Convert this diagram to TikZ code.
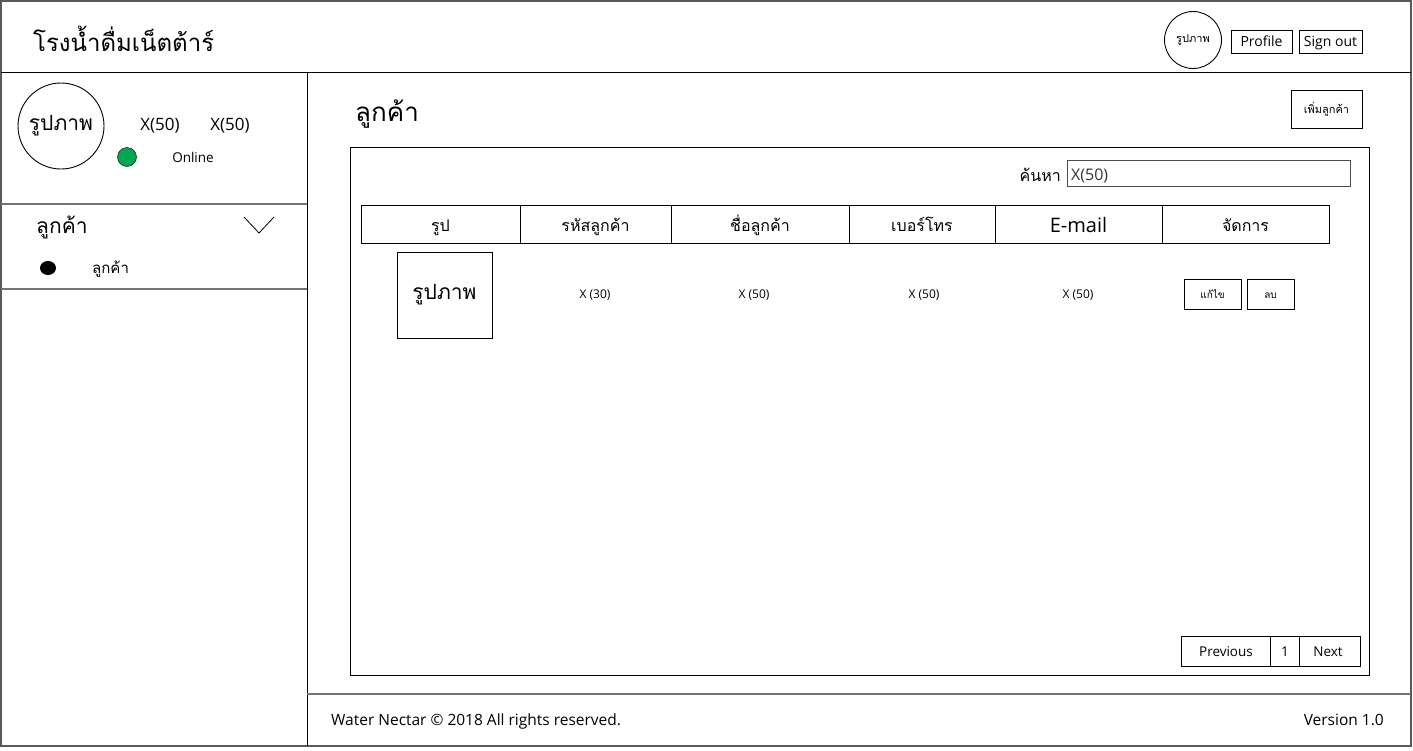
\documentclass[tikz,border=0pt]{standalone}
\usepackage{fontspec}
\usetikzlibrary{shapes.geometric}
\setmainfont{Open Sans}
\newfontfamily\thai[Script=Thai]{Loma}
\tikzset{
  box/.style={draw=black, line width=0.9pt},
  sep/.style={draw=black!55, line width=1.6pt},
  lbl/.style={inner sep=0pt, anchor=center},
  bl/.style={inner sep=0pt, anchor=base},
  fs/.style={font=\fontsize{#1}{#1}\selectfont},
  ts/.style={font=\thai\fontsize{#1}{#1}\selectfont},
}
\begin{document}
\begin{tikzpicture}[x=1pt,y=-1pt]
\useasboundingbox (0,0) rectangle (1413,750);
\fill[white] (0,0) rectangle (1413,750);
% outer frame
\draw[draw=black!65, line width=1.6pt] (1,1) rectangle (1411,746);
\draw[box] (1,72) -- (1411,72);
\draw[box] (307,72) -- (307,746);
\draw[sep] (1,204) -- (307,204);
\draw[sep] (1,289) -- (307,289);
\draw[sep] (307,694) -- (1411,694);
% header
\node[lbl, ts=24, anchor=west] (title) at (33,39) {โรงน้ำดื่มเน็ตต้าร์};
\node[box, circle, minimum size=57pt, inner sep=0pt, ts=11] (topimg) at (1193,40) {รูปภาพ};
\node[box, minimum width=61pt, minimum height=23pt, inner sep=0pt] (profile) at (1261.5,41.5) {};
\node[box, minimum width=63pt, minimum height=23pt, inner sep=0pt] (signout) at (1330.5,41.5) {};
\node[bl, fs=14] (profiletxt) at (1261.5,46.5) {Profile};
\node[bl, fs=14] (signouttxt) at (1330.5,46.5) {Sign out};
% sidebar user
\node[box, circle, minimum size=86pt, inner sep=0pt, ts=21] (avatar) at (61,126) {รูปภาพ};
\node[bl, fs=17] (x1) at (160,130) {X(50)};
\node[bl, fs=17] (x2) at (230,130) {X(50)};
\node[circle, draw=black, fill={rgb,255:red,0;green,166;blue,81}, minimum size=19pt, inner sep=0pt] (dot) at (127,157) {};
\node[bl, fs=13.5] (online) at (193,162) {Online};
% sidebar menu
\node[lbl, ts=21, anchor=west] (menu) at (36,227) {ลูกค้า};
\coordinate (cv1) at (244,217);
\coordinate (cv2) at (259,233);
\coordinate (cv3) at (274,217);
\draw[line width=0.8pt] (cv1) -- (cv2) -- (cv3);
\node[ellipse, fill=black, minimum width=16pt, minimum height=14pt, inner sep=0pt] (bul) at (48,268) {};
\node[lbl, ts=15, anchor=west] (sub) at (92,269) {ลูกค้า};
% main heading
\node[lbl, ts=26, anchor=west] (heading) at (355,114) {ลูกค้า};
\node[box, minimum width=71pt, minimum height=38pt, inner sep=0pt, ts=11] (add) at (1326.5,109) {เพิ่มลูกค้า};
% panel
\draw[box] (350,147) rectangle (1369,675);
\node[bl, ts=16, anchor=base east] (search) at (1061,181) {ค้นหา};
\node[box, draw=black!70, minimum width=283pt, minimum height=26pt, inner sep=0pt] (input) at (1208.5,173) {};
\node[bl, fs=16, anchor=base west, text=black!80] (inputtxt) at (1071,180) {X(50)};
% table header
\draw[box] (361,205) rectangle (1329,243);
\foreach \xx in {520,671,849,995,1162} \draw[box] (\xx,205) -- (\xx,243);
\node[bl, ts=16] (h1) at (440.5,231) {รูป};
\node[bl, ts=16] (h2) at (595.5,231) {รหัสลูกค้า};
\node[bl, ts=16] (h3) at (760,231) {ชื่อลูกค้า};
\node[bl, ts=16] (h4) at (922,231) {เบอร์โทร};
\node[bl, fs=20] (h5) at (1078.5,232) {E-mail};
\node[bl, ts=16] (h6) at (1245.5,231) {จัดการ};
% row
\node[box, minimum width=95pt, minimum height=86pt, inner sep=0pt, ts=21] (rowimg) at (444.5,295) {รูปภาพ};
\node[bl, fs=12] (c2) at (595,298.5) {X (30)};
\node[bl, fs=12] (c3) at (754,298.5) {X (50)};
\node[bl, fs=12] (c4) at (924,298.5) {X (50)};
\node[bl, fs=12] (c5) at (1078,298.5) {X (50)};
\node[box, minimum width=57pt, minimum height=30pt, inner sep=0pt] (edit) at (1212.5,294) {};
\node[box, minimum width=47pt, minimum height=30pt, inner sep=0pt] (del) at (1270.5,294) {};
\node[bl, ts=10] (edittxt) at (1212.5,298) {แก้ไข};
\node[bl, ts=10] (deltxt) at (1270.5,298) {ลบ};
% pagination
\draw[box] (1181,636) rectangle (1360,666);
\draw[box] (1270,636) -- (1270,666);
\draw[box] (1299,636) -- (1299,666);
\node[bl, fs=13.5] (prev) at (1226,656) {Previous};
\node[bl, fs=13.5] (one) at (1285,656) {1};
\node[bl, fs=13.5] (next) at (1328,656) {Next};
% footer
\node[bl, fs=15.5, anchor=base west] (copy) at (331,725.5) {Water Nectar © 2018 All rights reserved.};
\node[bl, fs=15.5, anchor=base east] (ver) at (1384,725.5) {Version 1.0};
\end{tikzpicture}
\end{document}
